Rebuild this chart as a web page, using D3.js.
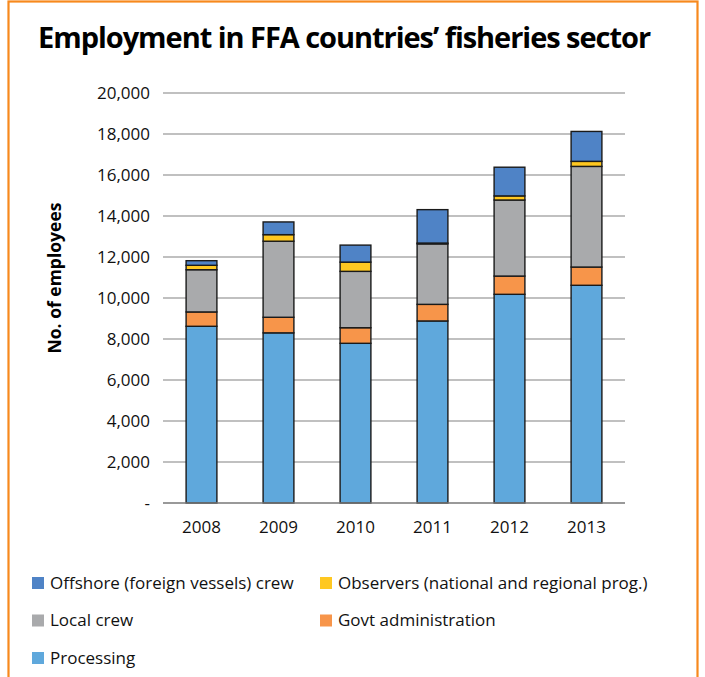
<!DOCTYPE html>
<html>
<head>
<meta charset="utf-8">
<script src="https://cdn.jsdelivr.net/npm/d3@7"></script>
<style>
  body { margin: 0; background: #fff; }
  svg { font-family: "Open Sans", "Noto Sans", sans-serif; }
</style>
</head>
<body>
<div id="chart"></div>
<script>
// data
const years = ["2008", "2009", "2010", "2011", "2012", "2013"]
const processing = [8620, 8300, 7790, 8880, 10180, 10620]
const govt = [700, 760, 760, 810, 890, 890]
const local_crew = [2060, 3710, 2750, 2950, 3710, 4910]
const observers = [215, 320, 450, 40, 200, 245]
const offshore = [225, 620, 830, 1630, 1400, 1460]
const y_ticks = [0, 2000, 4000, 6000, 8000, 10000, 12000, 14000, 16000, 18000, 20000]

const series = [
  {key: "processing", name: "Processing", values: processing, color: "#5fa8dc"},
  {key: "govt", name: "Govt administration", values: govt, color: "#f7954a"},
  {key: "local", name: "Local crew", values: local_crew, color: "#a9aaac"},
  {key: "observers", name: "Observers (national and regional prog.)", values: observers, color: "#ffc821"},
  {key: "offshore", name: "Offshore (foreign vessels) crew", values: offshore, color: "#4f83c6"}
]

const width = 705, height = 677
const plot = {left: 163, right: 625, top: 93, bottom: 503}

const svg = d3.select("#chart").append("svg")
    .attr("width", width)
    .attr("height", height)

// orange frame
svg.append("rect")
    .attr("x", 8.5).attr("y", 1.5)
    .attr("width", 689).attr("height", 690)
    .attr("fill", "none")
    .attr("stroke", "#f7891d")
    .attr("stroke-width", 2.2)

// title: tighten letter spacing so it spans the same width as the reference
const title = svg.append("text")
    .attr("x", 38).attr("y", 48)
    .attr("font-size", 29)
    .attr("font-weight", "bold")
    .text("Employment in FFA countries\u2019 fisheries sector")
const title_w = title.node().getComputedTextLength()
const title_chars = title.text().length
title.style("letter-spacing", `${(612 - title_w) / title_chars}px`)

const rows = years.map((yr, i) => {
    const r = {year: yr}
    series.forEach(s => r[s.key] = s.values[i])
    return r
})
const stacked = d3.stack().keys(series.map(s => s.key))(rows)

const x = d3.scaleBand()
    .domain(years)
    .range([plot.left, plot.right])
    .paddingInner(0.6)
    .paddingOuter(0.3)

const y = d3.scaleLinear()
    .domain([0, 20000])
    .range([plot.bottom, plot.top])

// gridlines
svg.append("g").selectAll("line")
    .data(y_ticks.filter(d => d > 0))
    .join("line")
    .attr("x1", plot.left).attr("x2", plot.right)
    .attr("y1", d => y(d)).attr("y2", d => y(d))
    .attr("stroke", "#ababab")
    .attr("stroke-width", 1.3)

// y labels
svg.append("g").selectAll("text")
    .data(y_ticks)
    .join("text")
    .attr("x", 150)
    .attr("y", d => y(d))
    .attr("dy", "0.35em")
    .attr("text-anchor", "end")
    .attr("font-size", 17)
    .attr("fill", "#111")
    .text(d => d === 0 ? "-" : d3.format(",")(d))

svg.append("text")
    .attr("transform", `translate(61,${(plot.top + plot.bottom) / 2 - 20}) rotate(-90)`)
    .attr("text-anchor", "middle")
    .attr("font-size", 17.5)
    .attr("font-weight", "bold")
    .text("No. of employees")

// bars
svg.append("g").selectAll("g")
    .data(stacked)
    .join("g")
    .attr("fill", d => series.find(s => s.key === d.key).color)
    .selectAll("rect")
    .data(d => d)
    .join("rect")
    .attr("x", d => x(d.data.year))
    .attr("width", x.bandwidth())
    .attr("y", d => y(d[1]))
    .attr("height", d => y(d[0]) - y(d[1]))
    .attr("stroke", "#1a1a1a")
    .attr("stroke-width", 1.4)

// baseline
svg.append("line")
    .attr("x1", plot.left).attr("x2", plot.right)
    .attr("y1", plot.bottom).attr("y2", plot.bottom)
    .attr("stroke", "#777")
    .attr("stroke-width", 1.5)

svg.append("g").selectAll("text")
    .data(years)
    .join("text")
    .attr("x", d => x(d) + x.bandwidth() / 2)
    .attr("y", 533)
    .attr("text-anchor", "middle")
    .attr("font-size", 17)
    .attr("fill", "#111")
    .text(d => d)

// legend
const legend_order = ["offshore", "observers", "local", "govt", "processing"]
const legend = svg.append("g").selectAll("g")
    .data(legend_order.map(k => series.find(s => s.key === k)))
    .join("g")
    .attr("transform", (d, i) => `translate(${i % 2 === 0 ? 32 : 320},${583 + Math.floor(i / 2) * 37.5})`)

legend.append("rect")
    .attr("x", 0).attr("y", -6)
    .attr("width", 12).attr("height", 12)
    .attr("fill", d => d.color)

legend.append("text")
    .attr("x", 18)
    .attr("dy", "0.35em")
    .attr("font-size", 17)
    .attr("fill", "#111")
    .text(d => d.name)
</script>
</body>
</html>
